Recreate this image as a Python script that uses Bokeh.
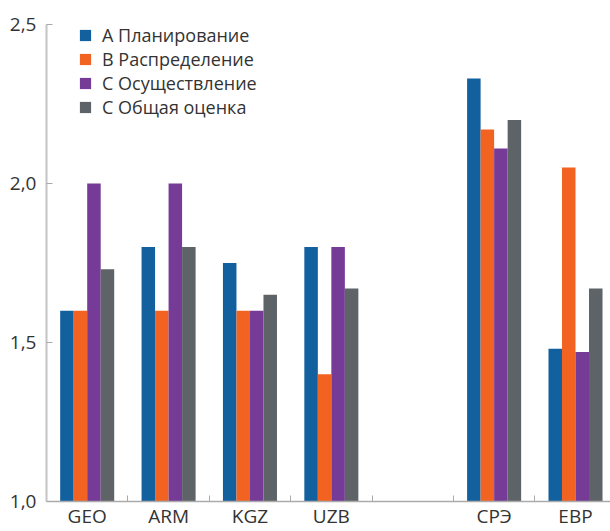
from bokeh.plotting import figure
from bokeh.models import ColumnDataSource, Range1d, FixedTicker, Legend
from bokeh.transform import dodge
from bokeh.embed import file_html
from bokeh.resources import INLINE

categories = ["GEO", "ARM", "KGZ", "UZB", "", "СРЭ", "ЕВР"]
series_names = ["А Планирование", "В Распределение", "С Осуществление", "С Общая оценка"]
planning = [1.6, 1.8, 1.75, 1.8, None, 2.33, 1.48]
distribution = [1.6, 1.6, 1.6, 1.4, None, 2.17, 2.05]
implementation = [2.0, 2.0, 1.6, 1.8, None, 2.11, 1.47]
overall = [1.73, 1.8, 1.65, 1.67, None, 2.2, 1.67]
y_ticks = [1.0, 1.5, 2.0, 2.5]
y_tick_labels = ["1,0", "1,5", "2,0", "2,5"]

colors = ["#13609f", "#f26322", "#763b96", "#5e6367"]
FONT = "Open Sans"

idx = [i for i, c in enumerate(categories) if c]
data = {"x": [i + 0.5 for i in idx]}
for key, vals in zip(["a", "b", "c", "d"], [planning, distribution, implementation, overall]):
    data[key] = [vals[i] for i in idx]
source = ColumnDataSource(data)

p = figure(width=610, height=531, output_backend="svg", toolbar_location=None,
           x_range=Range1d(0, 6.93), y_range=Range1d(1.0, 2.5),
           min_border_left=46, min_border_right=0, min_border_top=24, min_border_bottom=27)
p.outline_line_color = None
p.xgrid.visible = False
p.ygrid.visible = False

bw = 0.166
offsets = [-1.5 * bw, -0.5 * bw, 0.5 * bw, 1.5 * bw]
renderers = []
for key, off, col in zip(["a", "b", "c", "d"], offsets, colors):
    r = p.vbar(x=dodge("x", off), top=key, bottom=1.0, width=bw, source=source,
               fill_color=col, line_color=None)
    renderers.append(r)

# x axis
xt = FixedTicker(ticks=[i + 0.5 for i in idx], minor_ticks=[1, 2, 3, 4, 5, 6])
p.xaxis.ticker = xt
p.xaxis.major_label_overrides = {i + 0.5: categories[i] for i in idx}
p.xaxis.major_tick_in = 0
p.xaxis.major_tick_out = 0
p.xaxis.minor_tick_in = 6
p.xaxis.minor_tick_out = 0
p.xaxis.minor_tick_line_color = "#aaaaaa"
p.xaxis.axis_line_color = "#aaaaaa"
p.xaxis.axis_line_width = 1.5
p.xaxis.major_label_standoff = 1
p.xaxis.major_label_text_font = FONT
p.xaxis.major_label_text_font_size = "19px"
p.xaxis.major_label_text_color = "#333333"

# y axis
p.yaxis.ticker = FixedTicker(ticks=y_ticks, minor_ticks=[])
p.yaxis.major_label_overrides = dict(zip(y_ticks, y_tick_labels))
p.yaxis.major_tick_in = 6
p.yaxis.major_tick_out = 0
p.yaxis.major_tick_line_color = "#aaaaaa"
p.yaxis.axis_line_color = "#c4c4c4"
p.yaxis.axis_line_width = 2
p.yaxis.minor_tick_line_color = None
p.yaxis.major_label_standoff = 10
p.yaxis.major_label_text_font = FONT
p.yaxis.major_label_text_font_size = "19px"
p.yaxis.major_label_text_color = "#333333"

legend = Legend(items=[(n, [r]) for n, r in zip(series_names, renderers)],
                location=(32, 382))
legend.border_line_color = None
legend.background_fill_alpha = 0
legend.padding = 0
legend.margin = 0
legend.spacing = 0
legend.glyph_width = 14
legend.glyph_height = 14
legend.label_height = 24
legend.label_standoff = 10
legend.label_text_font = FONT
legend.label_text_font_size = "18px"
legend.label_text_color = "#333333"
p.add_layout(legend)

open("out.html", "w").write(file_html(p, INLINE))
